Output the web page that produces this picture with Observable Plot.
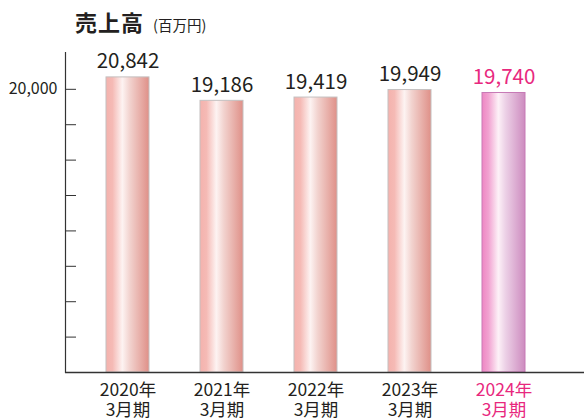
<!DOCTYPE html>
<html>
<head>
<meta charset="utf-8">
<script src="https://cdn.jsdelivr.net/npm/d3@7"></script>
<script src="https://cdn.jsdelivr.net/npm/@observablehq/plot@0.6"></script>
<style>
  body { margin: 0; background: #fff; }
  #wrap { position: relative; width: 584px; height: 420px; font-family: "Noto Sans CJK JP", "Noto Sans", sans-serif; }
  #title { position: absolute; left: 75px; top: 5px; color: #231f20; white-space: nowrap; }
  #title .main { font-size: 22px; font-weight: bold; letter-spacing: 1px; }
  #title .unit { font-size: 14.5px; margin-left: 9px; }
</style>
</head>
<body>
<div id="wrap">
  <div id="title"><span class="main">売上高</span><span class="unit">(百万円)</span></div>
</div>
<script>
// ---- data ----
const periods = ["2020年3月期", "2021年3月期", "2022年3月期", "2023年3月期", "2024年3月期"];
const sales = [20842, 19186, 19419, 19949, 19740];
const highlight = "2024年3月期";
const tickValues = [2500, 5000, 7500, 10000, 12500, 15000, 17500, 20000];
const tickLabels = [20000];

const dark = "#231f20";
const pink = "#e8287e";

const data = periods.map((p, i) => ({period: p, sales: sales[i]}));
const isHi = d => d === highlight || (d && d.period === highlight);

const chart = Plot.plot({
  width: 584,
  height: 420,
  marginLeft: 65,
  marginRight: 0,
  marginTop: 52,
  marginBottom: 48,
  style: {fontFamily: '"Noto Sans CJK JP", "Noto Sans", sans-serif', color: dark, background: "transparent"},
  x: {domain: periods, paddingInner: 0.545, paddingOuter: 0.519, align: 0.413, axis: null, label: null},
  y: {domain: [0, 22600], axis: null, label: null},
  color: {type: "identity"},
  marks: [
    Plot.barY(data, {
      x: "period", y: "sales",
      fill: d => isHi(d) ? "url(#gradHi)" : "url(#gradBase)",
      stroke: d => isHi(d) ? "#c77ab6" : "#c4c0c0",
      strokeWidth: 1
    }),
    Plot.ruleY(tickValues, {stroke: "#333", strokeWidth: 1, insetRight: 508}),
    Plot.frame({anchor: "left", stroke: "#333", strokeWidth: 1.2}),
    Plot.axisY({ticks: tickLabels, tickSize: 0, tickPadding: 8, label: null, tickFormat: d3.format(","), fontSize: 16, fill: dark}),
    Plot.ruleY([0], {stroke: "#333", strokeWidth: 1.3}),
    Plot.axisX({
      tickSize: 0, tickPadding: 9, fontSize: 17.5, lineHeight: 1.16, label: null,
      tickFormat: d => d.replace("年", "年\n"),
      fill: d => isHi(d) ? pink : dark
    }),
    Plot.text(data, {
      x: "period", y: "sales",
      text: d => d3.format(",")(d.sales),
      lineAnchor: "bottom", dy: -9, fontSize: 20.5,
      fill: d => isHi(d) ? pink : dark
    })
  ]
});

const defs = d3.select(chart).insert("defs", ":first-child");
function grad(id, stops) {
  const g = defs.append("linearGradient").attr("id", id).attr("x1", 0).attr("x2", 1).attr("y1", 0).attr("y2", 0);
  stops.forEach(([o, c]) => g.append("stop").attr("offset", o).attr("stop-color", c));
}
grad("gradBase", [[0, "#f4b2ad"], [0.15, "#f5bab5"], [0.38, "#fdf3f2"], [0.55, "#f2d3cf"], [1, "#df9088"]]);
grad("gradHi", [[0, "#ee86c3"], [0.15, "#f1a2d1"], [0.38, "#fdf1f7"], [0.55, "#ecd0e6"], [1, "#cd8bbf"]]);

chart.style.position = "absolute";
chart.style.left = "0";
chart.style.top = "0";
document.getElementById("wrap").appendChild(chart);
</script>
</body>
</html>
